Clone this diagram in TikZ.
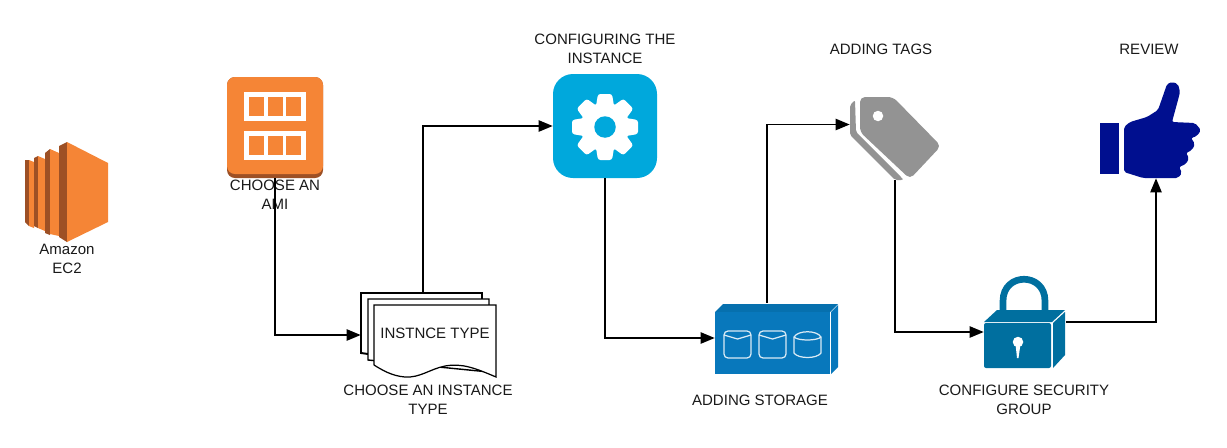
\documentclass[tikz,border=0pt]{standalone}
\usepackage{fontspec}
\setmainfont{Liberation Sans}
\usetikzlibrary{arrows.meta, positioning, calc}
\definecolor{ecorange}{HTML}{F58536}
\definecolor{ecdark}{HTML}{9D5025}
\definecolor{cfgblue}{HTML}{00A8DC}
\definecolor{stblue}{HTML}{0878BC}
\definecolor{stdark}{HTML}{0670AE}
\definecolor{lockblue}{HTML}{006F9F}
\definecolor{taggray}{HTML}{939393}
\definecolor{thumbblue}{HTML}{000F8F}

\begin{document}
\begin{tikzpicture}[
  x=0.02cm, y=-0.02cm,
  caption/.style={align=center, inner sep=0pt, font=\fontsize{8.55}{10.6}\selectfont, text=black!90},
  iconbox/.style={rectangle, inner sep=0pt},
  flow/.style={draw=black, line width=0.75pt, -{Triangle[length=8pt, width=6.5pt]}},
]
\useasboundingbox (0,0) rectangle (1227,447);

% anchors for the icons
\node[iconbox, minimum width=1.92cm, minimum height=2.02cm] (ami) at (275,127.5) {};
\node[iconbox, minimum width=2.70cm, minimum height=1.68cm] (insttype) at (428.5,335) {};
\node[iconbox, minimum width=2.08cm, minimum height=2.08cm] (config) at (605,126) {};
\node[iconbox, minimum width=2.46cm, minimum height=1.40cm] (storage) at (776.5,338) {};
\node[iconbox, minimum width=1.80cm, minimum height=1.66cm] (tags) at (895,138.5) {};
\node[iconbox, minimum width=1.64cm, minimum height=1.82cm] (lock) at (1025,322) {};
\node[iconbox, minimum width=2.02cm, minimum height=1.90cm] (thumb) at (1150.5,130.5) {};

% EC2
\fill[ecdark] (25,160) -- (29,160) -- (29,226) -- (25,222) -- cycle;
\fill[ecorange] (29,160) -- (34,162) -- (34,228) -- (29,226) -- cycle;
\fill[ecdark] (34,158) -- (38,156) -- (38,228) -- (34,226) -- cycle;
\fill[ecorange] (38,156) -- (45,159) -- (45,231) -- (38,228) -- cycle;
\fill[ecdark] (45,153) -- (50,149) -- (50,235) -- (45,233) -- cycle;
\fill[ecorange] (50,149) -- (59,153) -- (59,236) -- (50,234) -- cycle;
\fill[ecdark] (59,146) -- (67,142) -- (67,242) -- (59,237) -- cycle;
\fill[ecorange] (67,142) -- (108,163) -- (108,222) -- (67,242) -- cycle;
\node[caption] (ec2) at (67,259) {Amazon\\EC2};

% AMI
\fill[ecdark, rounded corners=0.16cm] (227,77) rectangle (323,178);
\fill[ecorange, rounded corners=0.16cm] (227,77) rectangle (323,174);
\fill[white] (244,92) rectangle (306,121);
\fill[white] (244,131) rectangle (306,160);
\foreach \cx in {249,268,286} {
  \fill[ecorange] (\cx,97) rectangle ++(14.5,19);
  \fill[ecorange] (\cx,136) rectangle ++(14.5,19);
}
\node[caption] (amitxt) at (275,195) {CHOOSE AN\\AMI};

% instance type sheets
\draw[black, line width=1.1pt, fill=white] (361,353) -- (361,293) -- (482,293) -- (482,370) -- cycle;
\draw[black, line width=0.8pt, fill=white] (368,360) -- (368,299) -- (489,299) -- (489,372) -- cycle;
\draw[black, line width=0.7pt, fill=white] (374,365) -- (374,305) -- (496,305) -- (496,377)
  .. controls (475,368) and (462,363) .. (445,366) .. controls (430,369) and (420,378) .. (405,377)
  .. controls (392,376) and (382,370) .. (374,365);
\node[caption] (insttxt) at (435,333) {INSTNCE TYPE};
\node[caption] (typetxt) at (428,400) {CHOOSE AN INSTANCE\\TYPE};

% configuring
\fill[cfgblue, rounded corners=0.4cm] (553,74) rectangle (657,178);
\fill[white] (605,127) circle[radius=0.49cm];
\foreach \a in {0,45,...,315} {
  \fill[white, rounded corners=0.05cm, rotate around={\a:(605,127)}] (598,94) -- (612,94) -- (615,112) -- (595,112) -- cycle;
}
\fill[cfgblue] (605,127) circle[radius=0.215cm];
\node[caption] (cfgtxt) at (605,49) {CONFIGURING THE\\INSTANCE};

% storage
\fill[stdark] (715,312) -- (723,304) -- (838,304) -- (830,312) -- cycle;
\fill[stblue] (715,312) rectangle (830,374);
\fill[stblue] (831,312) -- (838,305) -- (838,367) -- (831,374) -- cycle;
\foreach \cx in {724,759} {
  \draw[white!85!stblue, line width=0.7pt, rounded corners=0.08cm] (\cx,331) rectangle ++(27,27);
  \draw[white!85!stblue, line width=0.7pt] (\cx,335) -- ++(13.5,4) -- ++(13.5,-4);
}
\draw[white!85!stblue, line width=0.7pt] (794,337) .. controls (798,330) and (817,330) .. (821,337)
  -- (821,353) .. controls (817,359) and (798,359) .. (794,353) -- cycle;
\draw[white!85!stblue, line width=0.7pt] (794,337) .. controls (798,341) and (817,341) .. (821,337);
\node[caption] (sttxt) at (760,400) {ADDING STORAGE};

% tags
\fill[taggray, rounded corners=0.04cm] (855,100) -- (850,105) -- (850,135) -- (895,180) -- (903,180) -- (902,178) -- (856,132) -- cycle;
\fill[taggray, rounded corners=0.1cm] (860,97) -- (893,97) -- (941,146) -- (910,179) -- (860,132) -- cycle;
\fill[white] (878,116) circle[radius=0.105cm];
\node[caption] (tagtxt) at (881,49) {ADDING TAGS};

% lock
\draw[white, line width=4.8pt] (1003,318) -- (1003,301) .. controls (1003,272) and (1045,272) .. (1045,301) -- (1045,318);
\draw[lockblue, line width=3.8pt] (1003,317) -- (1003,301) .. controls (1003,272) and (1045,272) .. (1045,301) -- (1045,317);
\fill[lockblue] (984,322) -- (997,310) -- (1065,310) -- (1052,322) -- cycle;
\fill[lockblue, rounded corners=0.04cm] (984,323) rectangle (1051,368);
\fill[lockblue] (1053,323) -- (1065,312) -- (1065,355) -- (1053,368) -- cycle;
\fill[white] (1018,342) circle[radius=0.105cm];
\fill[white] (1015.5,344) -- (1020.5,344) -- (1018.5,358) -- (1017,358) -- cycle;
\node[caption] (locktxt) at (1024,400) {CONFIGURE SECURITY\\GROUP};

% thumb
\fill[thumbblue] (1100,123) rectangle (1119,174);
\fill[thumbblue, rounded corners=0.04cm] (1124,127) -- (1130,122) -- (1147,117) -- (1158,110) -- (1165,90) -- (1167,84) -- (1172,82)
  -- (1178,84) -- (1180,92) -- (1178,100) -- (1172,122) -- (1195,123) -- (1201,130) -- (1197,136) -- (1191,138) -- (1195,144)
  -- (1192,150) -- (1186,153) -- (1189,158) -- (1186,164) -- (1179,167) -- (1182,173) -- (1178,178) -- (1143,178)
  -- (1124,172) -- cycle;
\node[caption] (revtxt) at (1149,49) {REVIEW};

% connectors
\draw[flow] (ami.south) |- (insttype.west);
\draw[flow] ([xshift=-0.11cm]insttype.north) |- (config.west);
\draw[flow] (config.south) |- (storage.west);
\draw[flow] ([xshift=-0.19cm]storage.north) |- ([yshift=0.28cm]tags.west);
\draw[flow] (tags.south) |- ([yshift=-0.2cm]lock.west);
\draw[flow] (lock.east) -| ([xshift=0.11cm]thumb.south);
\end{tikzpicture}
\end{document}
